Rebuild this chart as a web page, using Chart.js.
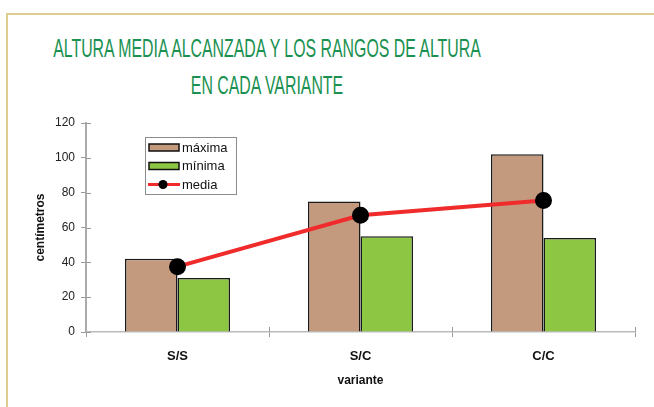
<!DOCTYPE html>
<html>
<head>
<meta charset="utf-8">
<script src="https://cdn.jsdelivr.net/npm/chart.js@4.4.1/dist/chart.umd.min.js"></script>
<style>
  html, body { margin: 0; padding: 0; background: #fff; }
  #frame { position: absolute; left: 6px; top: 13px; width: 648px; height: 394px;
           border-top: 2px solid #ddcd8e; border-left: 2px solid #ddcd8e; }
  #title { position: absolute; left: 0; top: 30px; width: 534px;
           color: #1a9150; font-family: "Liberation Sans", Arial, sans-serif;
           font-size: 25px; line-height: 37px; }
  #title div { display: flex; justify-content: center; white-space: nowrap;
               transform: scaleX(0.635); transform-origin: 50% 50%; }
  canvas { position: absolute; left: 0; top: 0; }
</style>
</head>
<body>
<div id="frame"></div>
<div id="title"><div>ALTURA MEDIA ALCANZADA Y LOS RANGOS DE ALTURA</div><div>EN CADA VARIANTE</div></div>
<canvas id="chartcanvas" width="654" height="407"></canvas>
<script>
const variantes = ['S/S', 'S/C', 'C/C'];
const maxima = [42, 75, 102];
const minima = [31, 55, 54];
const media = [37.5, 67, 75.5];
const yMin = 0;
const yMax = 120;
const yStep = 20;

const canvas = document.getElementById('chartcanvas');
const ctx = canvas.getContext('2d');
const fontFamily = '"Liberation Sans", Arial, sans-serif';

// little legend box inside the plot, like the original
const legendBox = {
  id: 'legendBox',
  afterDraw(chart) {
    const c = chart.ctx;
    const area = chart.chartArea;
    const x = area.left + 59, y = area.top + 14;
    c.save();
    c.fillStyle = '#fff';
    c.fillRect(x, y, 91, 57);
    c.strokeStyle = '#8c8c8c';
    c.lineWidth = 1;
    c.strokeRect(x + 0.5, y + 0.5, 91, 57);
    chart.data.datasets.forEach((ds, i) => {
      const cy = y + 10.5 + i * 18.5;
      if (ds.type === 'line') {
        c.strokeStyle = ds.borderColor;
        c.lineWidth = 3;
        c.beginPath();
        c.moveTo(x + 3, cy);
        c.lineTo(x + 35, cy);
        c.stroke();
        c.fillStyle = ds.pointBackgroundColor;
        c.beginPath();
        c.arc(x + 18, cy, 4.5, 0, Math.PI * 2);
        c.fill();
      } else {
        c.fillStyle = ds.backgroundColor;
        c.fillRect(x + 4, cy - 3.5, 30, 7);
        c.strokeStyle = '#111';
        c.lineWidth = 1.5;
        c.strokeRect(x + 4, cy - 3.5, 30, 7);
      }
      c.fillStyle = '#111';
      c.font = '13px ' + fontFamily;
      c.textBaseline = 'middle';
      c.textAlign = 'left';
      c.fillText(ds.label, x + 37, cy + 0.5);
    });
    c.restore();
  }
};

// ticks cross the axis lines, so draw the inner half too
const innerTicks = {
  id: 'innerTicks',
  afterDraw(chart) {
    const c = chart.ctx;
    const xs = chart.scales.x, ys = chart.scales.y;
    c.save();
    c.strokeStyle = '#999';
    c.lineWidth = 1;
    ys.ticks.forEach((t) => {
      const py = Math.round(ys.getPixelForValue(t.value)) + 0.5;
      c.beginPath();
      c.moveTo(ys.right, py);
      c.lineTo(ys.right + 5, py);
      c.stroke();
    });
    const step = xs.width / variantes.length;
    for (let i = 1; i <= variantes.length; i++) {
      const px = Math.round(xs.left + i * step) + 0.5;
      c.beginPath();
      c.moveTo(px, xs.top);
      c.lineTo(px, xs.top - 5);
      c.stroke();
    }
    c.restore();
  }
};

const chart = new Chart(ctx, {
  type: 'bar',
  data: {
    labels: variantes,
    datasets: [
      {
        label: 'máxima',
        data: maxima,
        backgroundColor: '#c49a7e',
        borderColor: '#1a1a1a',
        borderWidth: 1.5,
        order: 1,
      },
      {
        label: 'mínima',
        data: minima,
        backgroundColor: '#8dc642',
        borderColor: '#1a1a1a',
        borderWidth: 1.5,
        order: 1,
      },
      {
        type: 'line',
        label: 'media',
        data: media,
        borderColor: '#ef2b2b',
        borderWidth: 4,
        pointRadius: 6.5,
        pointHoverRadius: 6.5,
        pointBackgroundColor: '#000',
        pointBorderColor: '#000',
        tension: 0,
        order: 0,
      }
    ]
  },
  options: {
    responsive: false,
    animation: false,
    datasets: {
      bar: { barPercentage: 1, categoryPercentage: 0.574 }
    },
    layout: {
      padding: { left: 0, top: 123, right: 19, bottom: 0 }
    },
    scales: {
      x: {
        afterFit: (scale) => { scale.height = 75; },
        grid: { offset: true, drawOnChartArea: false, tickLength: 5, color: '#999' },
        border: { color: '#bbb', width: 1.5 },
        ticks: { color: '#111', font: { family: fontFamily, size: 13, weight: 'bold' }, padding: 12 },
        title: {
          display: true,
          text: 'variante',
          color: '#111',
          font: { family: fontFamily, size: 12, weight: 'bold' },
          padding: { top: 0, bottom: 19 }
        }
      },
      y: {
        min: yMin,
        max: yMax,
        afterFit: (scale) => { scale.width = 86; },
        grid: { drawOnChartArea: false, tickLength: 5, color: '#999' },
        border: { color: '#aaa', width: 2 },
        ticks: { stepSize: yStep, color: '#222', font: { family: fontFamily, size: 12 }, padding: 6 },
        title: {
          display: true,
          text: 'centímetros',
          color: '#111',
          font: { family: fontFamily, size: 12, weight: 'bold' },
          padding: { top: 33, bottom: 0 }
        }
      }
    },
    plugins: {
      legend: { display: false },
      title: { display: false },
      tooltip: { enabled: false }
    }
  },
  plugins: [legendBox, innerTicks]
});
</script>
</body>
</html>
